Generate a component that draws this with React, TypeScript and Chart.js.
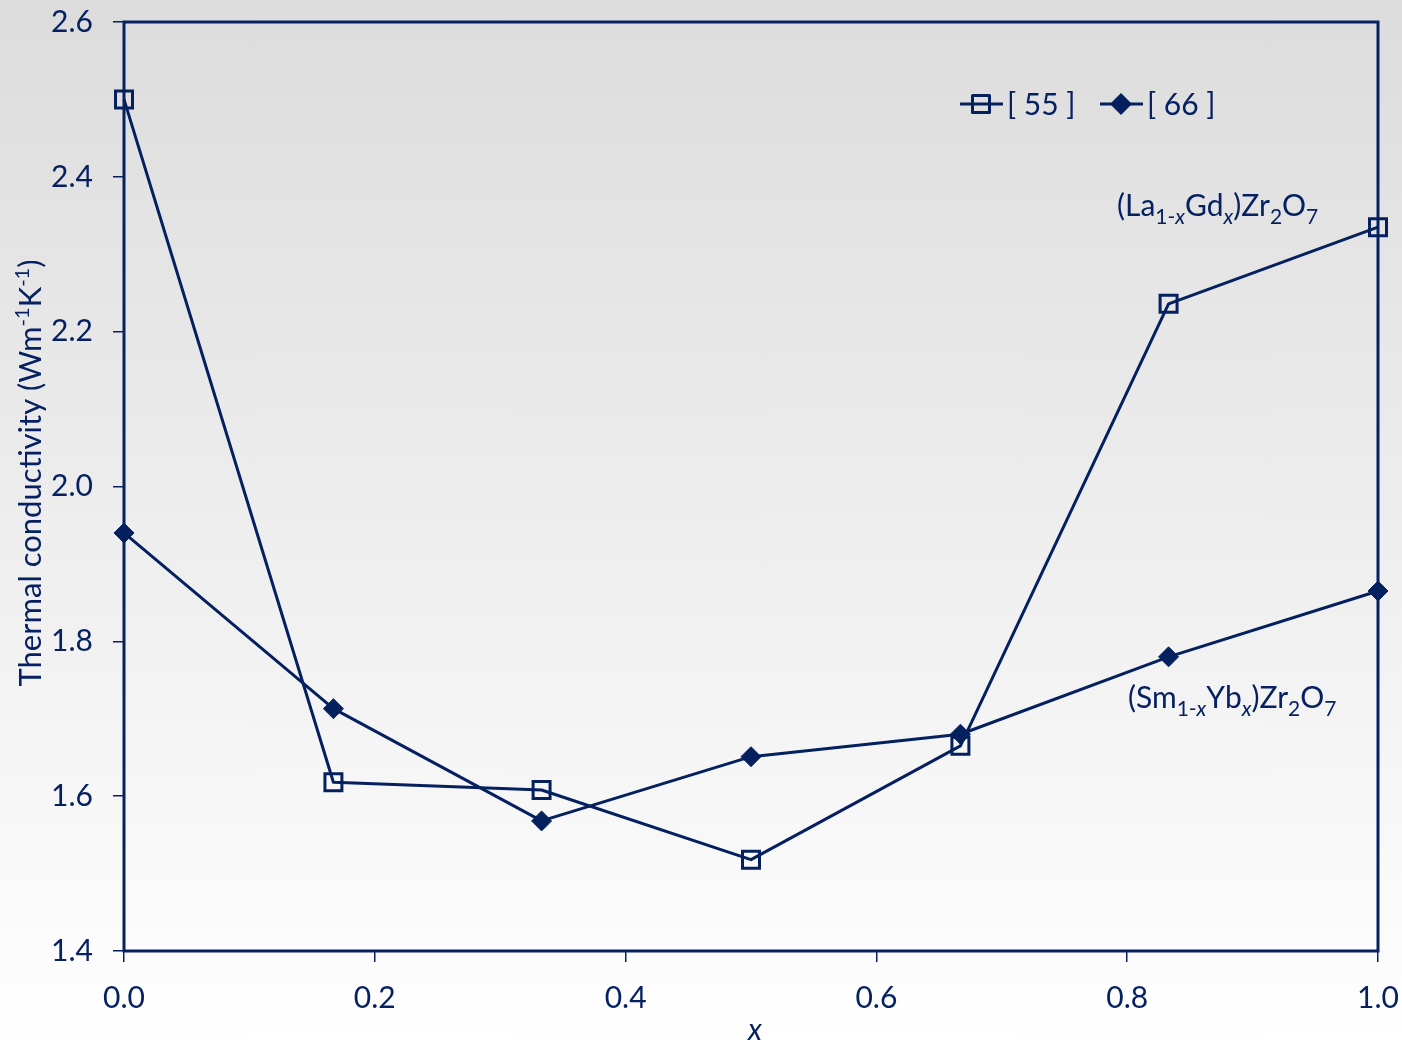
import React, { useEffect, useRef } from 'react';
import { Chart, registerables } from 'chart.js';

Chart.register(...registerables);

// ---- data ----
const xValues = [0, 0.167, 0.333, 0.5, 0.667, 0.833, 1.0];
const ref55 = [2.5, 1.618, 1.608, 1.518, 1.665, 2.236, 2.335];
const ref66 = [1.94, 1.713, 1.568, 1.651, 1.68, 1.78, 1.865];
const seriesLabels = ['[ 55 ]', '[ 66 ]'];
const yRange = [1.4, 2.6];
const xRange = [0, 1.0];
const tickStep = 0.2;

const NAVY = '#062162';
const LINE = '#04205f';
const FONT = 'Lato, "Open Sans", sans-serif';

type Seg = { t: string; sub?: boolean; sup?: boolean; italic?: boolean };

function measureRich(ctx: CanvasRenderingContext2D, segs: Seg[], size: number, small: number) {
  let w = 0;
  for (const s of segs) {
    const fs = s.sub || s.sup ? small : size;
    ctx.font = `${s.italic ? 'italic ' : ''}${fs}px ${FONT}`;
    w += ctx.measureText(s.t).width;
  }
  return w;
}

function drawRich(
  ctx: CanvasRenderingContext2D,
  segs: Seg[],
  x: number,
  y: number,
  size: number,
  small: number,
  align: 'left' | 'center'
) {
  ctx.save();
  ctx.fillStyle = NAVY;
  ctx.textBaseline = 'alphabetic';
  ctx.textAlign = 'left';
  let cx = x;
  if (align === 'center') cx = x - measureRich(ctx, segs, size, small) / 2;
  for (const s of segs) {
    const fs = s.sub || s.sup ? small : size;
    ctx.font = `${s.italic ? 'italic ' : ''}${fs}px ${FONT}`;
    const dy = s.sub ? size * 0.27 : s.sup ? -size * 0.38 : 0;
    ctx.fillText(s.t, cx, y + dy);
    cx += ctx.measureText(s.t).width;
  }
  ctx.restore();
}

const boxPlugin = {
  id: 'boxPlugin',
  beforeDatasetsDraw(chart: any) {
    const { ctx, chartArea } = chart;
    ctx.save();
    ctx.strokeStyle = NAVY;
    ctx.lineWidth = 3;
    ctx.strokeRect(chartArea.left, chartArea.top, chartArea.right - chartArea.left, chartArea.bottom - chartArea.top);
    ctx.restore();
  },
  afterDraw(chart: any) {
    const { ctx } = chart;
    // legend
    ctx.save();
    ctx.strokeStyle = LINE;
    ctx.lineWidth = 3;
    ctx.lineJoin = 'round';
    const ly = 104;
    // [55]
    ctx.beginPath();
    ctx.moveTo(960, ly);
    ctx.lineTo(1003, ly);
    ctx.stroke();
    ctx.strokeRect(981 - 8.5, ly - 8.5, 17, 17);
    // [66]
    ctx.beginPath();
    ctx.moveTo(1100, ly);
    ctx.lineTo(1143, ly);
    ctx.stroke();
    ctx.fillStyle = LINE;
    ctx.beginPath();
    ctx.moveTo(1121, ly - 11);
    ctx.lineTo(1132, ly);
    ctx.lineTo(1121, ly + 11);
    ctx.lineTo(1110, ly);
    ctx.closePath();
    ctx.fill();
    ctx.fillStyle = NAVY;
    ctx.font = `30px ${FONT}`;
    ctx.textBaseline = 'middle';
    ctx.textAlign = 'left';
    ctx.fillText(seriesLabels[0], 1007, ly + 1);
    ctx.fillText(seriesLabels[1], 1147, ly + 1);
    ctx.restore();

    // annotations
    drawRich(
      ctx,
      [
        { t: '(La' },
        { t: '1-', sub: true },
        { t: 'x', sub: true, italic: true },
        { t: 'Gd' },
        { t: 'x', sub: true, italic: true },
        { t: ')Zr' },
        { t: '2', sub: true },
        { t: 'O' },
        { t: '7', sub: true },
      ],
      1117,
      216,
      30,
      21,
      'left'
    );
    drawRich(
      ctx,
      [
        { t: '(Sm' },
        { t: '1-', sub: true },
        { t: 'x', sub: true, italic: true },
        { t: 'Yb' },
        { t: 'x', sub: true, italic: true },
        { t: ')Zr' },
        { t: '2', sub: true },
        { t: 'O' },
        { t: '7', sub: true },
      ],
      1128,
      708,
      30,
      21,
      'left'
    );

    // y axis title
    ctx.save();
    ctx.translate(41, 473);
    ctx.rotate(-Math.PI / 2);
    drawRich(
      ctx,
      [
        { t: 'Thermal conductivity (Wm' },
        { t: '-1', sup: true },
        { t: 'K' },
        { t: '-1', sup: true },
        { t: ')' },
      ],
      0,
      0,
      31,
      20,
      'center'
    );
    ctx.restore();

    // x axis title
    drawRich(ctx, [{ t: 'x', italic: true }], 755, 1040, 30, 20, 'center');
  },
};

function zeroPad(s: any) {
  s.paddingTop = 0;
  s.paddingBottom = 0;
  s.paddingLeft = 0;
  s.paddingRight = 0;
}

export default function App() {
  const canvasRef = useRef<HTMLCanvasElement | null>(null);

  useEffect(() => {
    if (!canvasRef.current) return;
    const chart = new Chart(canvasRef.current, {
      type: 'line',
      data: {
        datasets: [
          {
            label: seriesLabels[0],
            data: xValues.map((x, i) => ({ x, y: ref55[i] })),
            borderColor: LINE,
            borderWidth: 3,
            borderJoinStyle: 'round',
            pointStyle: 'rect',
            pointRadius: 12,
            pointHoverRadius: 12,
            pointBorderWidth: 3,
            pointBorderColor: LINE,
            pointBackgroundColor: 'rgba(0,0,0,0)',
            backgroundColor: 'rgba(0,0,0,0)',
            fill: false,
            tension: 0,
            clip: false,
          },
          {
            label: seriesLabels[1],
            data: xValues.map((x, i) => ({ x, y: ref66[i] })),
            borderColor: LINE,
            borderWidth: 3,
            borderJoinStyle: 'round',
            pointStyle: 'rectRot',
            pointRadius: 10,
            pointHoverRadius: 10,
            pointBorderWidth: 1,
            pointBorderColor: LINE,
            pointBackgroundColor: LINE,
            backgroundColor: LINE,
            fill: false,
            tension: 0,
            clip: false,
          },
        ],
      },
      options: {
        animation: false,
        responsive: true,
        maintainAspectRatio: false,
        layout: { padding: { top: 22, right: 24, left: 0, bottom: 0 } },
        plugins: {
          legend: { display: false },
          tooltip: { enabled: false },
        },
        scales: {
          x: {
            type: 'linear',
            min: xRange[0],
            max: xRange[1],
            afterFit: (s: any) => {
              s.height = 93;
              zeroPad(s);
            },
            ticks: {
              stepSize: tickStep,
              callback: (v: any) => Number(v).toFixed(1),
              font: { family: FONT, size: 30 },
              color: NAVY,
              padding: 18,
              maxRotation: 0,
            },
            grid: {
              drawOnChartArea: false,
              drawTicks: true,
              tickLength: 11,
              color: NAVY,
              lineWidth: 1.5,
            },
            border: { display: false },
          },
          y: {
            type: 'linear',
            min: yRange[0],
            max: yRange[1],
            afterFit: (s: any) => {
              s.width = 124;
              zeroPad(s);
            },
            ticks: {
              stepSize: tickStep,
              callback: (v: any) => Number(v).toFixed(1),
              font: { family: FONT, size: 30 },
              color: NAVY,
              padding: 20,
            },
            grid: {
              drawOnChartArea: false,
              drawTicks: true,
              tickLength: 11,
              color: NAVY,
              lineWidth: 1.5,
            },
            border: { display: false },
          },
        },
      },
      plugins: [boxPlugin],
    });
    return () => chart.destroy();
  }, []);

  return (
    <div
      style={{
        position: 'absolute',
        left: 0,
        top: 0,
        width: 1402,
        height: 1044,
        background: 'linear-gradient(to bottom, #dcdcdc 0%, #ffffff 100%)',
        overflow: 'hidden',
      }}
    >
      <canvas ref={canvasRef} style={{ display: 'block', width: '100%', height: '100%' }} />
    </div>
  );
}
